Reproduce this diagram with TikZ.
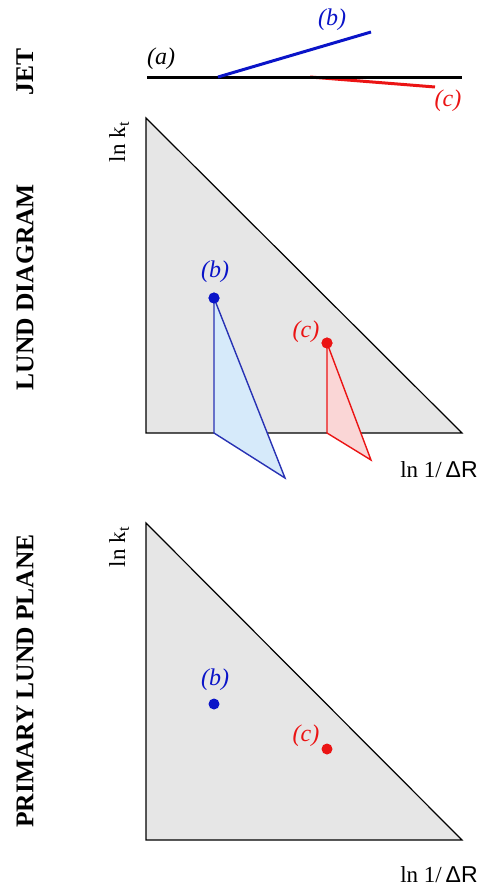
\documentclass[tikz,border=0pt]{standalone}
\usepackage{fontspec}
\setmainfont{Liberation Serif}
\newfontfamily\axisfont{Liberation Sans}
\definecolor{jetBlue}{RGB}{10,20,200}
\definecolor{jetRed}{RGB}{235,20,20}
\definecolor{edgeBlue}{RGB}{40,50,180}
\definecolor{planeGray}{RGB}{230,230,230}
\definecolor{bFill}{RGB}{214,234,250}
\definecolor{cFill}{RGB}{250,214,214}

\begin{document}
\begin{tikzpicture}[x=1pt, y=-1pt,
            rowlbl/.style={rotate=90, font=\bfseries\fontsize{25.5}{25.5}\selectfont, inner sep=0pt},
            tag/.style={font=\itshape\fontsize{24}{24}\selectfont, inner sep=0pt},
            axlbl/.style={font=\fontsize{23}{23}\selectfont, inner sep=0pt},
            jet/.style={line width=3pt},
            plane/.style={draw=black, fill=planeGray, line width=1.2pt, line join=miter},
            dot/.style={circle, inner sep=0pt, minimum size=11pt}]
            \useasboundingbox (0,0) rectangle (483,887);
            % row titles
            \node[rowlbl] (tjet) at (25,72) {JET};
            \node[rowlbl] (tlund) at (25,287) {LUND DIAGRAM};
            \node[rowlbl] (tprim) at (25,681) {PRIMARY LUND PLANE};
            % jet
            \coordinate (j0) at (147,77);
            \coordinate (j1) at (462,77);
            \coordinate (jb0) at (218,77);
            \coordinate (jb1) at (371,32);
            \coordinate (jc0) at (310,77);
            \coordinate (jc1) at (435,87);
            \draw[jet, jetRed] (jc0)--(jc1);
            \draw[jet, black] (j0)--(j1);
            \draw[jet, jetBlue] (jb0)--(jb1);
            \node[tag] (ja) at (161,59) {(a)};
            \node[tag, text=jetBlue] (jb) at (332,20) {(b)};
            \node[tag, text=jetRed] (jc) at (448,101) {(c)};
            % lund diagram
            \coordinate (l0) at (146,118);
            \coordinate (l1) at (146,433);
            \coordinate (l2) at (462,433);
            \draw[plane] (l0)--(l1)--(l2)--cycle;
            \node[axlbl, rotate=90] (lky) at (119,142) {ln k\textsubscript{t}};
            \node[axlbl] (lkx) at (439,470) {ln 1/\,{\axisfont ΔR}};
            \coordinate (lb1) at (214,433);
            \coordinate (lb2) at (285,478);
            \coordinate (lc1) at (327,433);
            \coordinate (lc2) at (371,460);
            \node[dot, fill=jetBlue] (lbd) at (214,298) {};
            \node[dot, fill=jetRed] (lcd) at (327,343) {};
            \draw[edgeBlue, fill=bFill, line width=1.4pt] (lbd.center)--(lb1)--(lb2)--cycle;
            \draw[jetRed, fill=cFill, line width=1.4pt] (lcd.center)--(lc1)--(lc2)--cycle;
            \node[dot, fill=jetBlue] at (lbd) {};
            \node[dot, fill=jetRed] at (lcd) {};
            \node[tag, text=jetBlue] (lbt) at (215,272) {(b)};
            \node[tag, text=jetRed] (lct) at (306,332) {(c)};
            % primary lund plane
            \coordinate (p0) at (146,523);
            \coordinate (p1) at (146,840);
            \coordinate (p2) at (462,840);
            \draw[plane] (p0)--(p1)--(p2)--cycle;
            \node[axlbl, rotate=90] (pky) at (119,547) {ln k\textsubscript{t}};
            \node[axlbl] (pkx) at (439,875) {ln 1/\,{\axisfont ΔR}};
            \node[dot, fill=jetBlue] (pbd) at (214,704) {};
            \node[dot, fill=jetRed] (pcd) at (327,749) {};
            \node[tag, text=jetBlue] (pbt) at (215,680) {(b)};
            \node[tag, text=jetRed] (pct) at (306,736) {(c)};
        \end{tikzpicture}
\end{document}
